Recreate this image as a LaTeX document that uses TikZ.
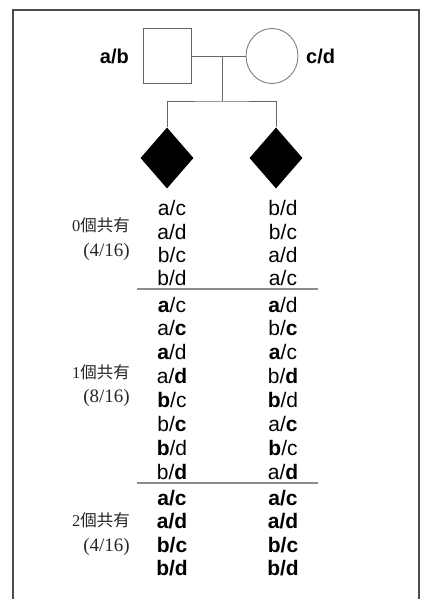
\documentclass[tikz,border=0pt]{standalone}
\usepackage{fontspec}
\usetikzlibrary{shapes.geometric}
\newfontfamily\gsans{Liberation Sans}
\newfontfamily\cjk{Noto Sans CJK TC}
\newfontfamily\lserif{Liberation Serif}
% shared allele in bold
\newcommand\shared[1]{{\bfseries #1}}

\begin{document}
\begin{tikzpicture}[x=1pt,y=-1pt,
  frame/.style={draw=black!70, line width=1.4pt},
  ped/.style={draw=black!60, line width=0.9pt},
  sep/.style={draw=black!45, line width=1.3pt},
  geno/.style={font=\gsans\fontsize{21}{23}\selectfont, inner sep=0pt, anchor=center},
  allbold/.style={geno, font=\gsans\bfseries\fontsize{21}{23}\selectfont},
  parentlabel/.style={font=\gsans\bfseries\fontsize{20}{22}\selectfont, inner sep=0pt},
  grouplabel/.style={font=\cjk\fontsize{16.5}{18}\selectfont, text=black!85, inner sep=0pt, anchor=east},
  ratio/.style={font=\lserif\fontsize{19}{21}\selectfont, text=black!85, inner sep=0pt, anchor=east},
  male/.style={ped, rectangle, minimum width=48pt, minimum height=55pt, inner sep=0pt},
  female/.style={draw=black!50, line width=0.9pt, ellipse, minimum width=52pt, minimum height=55pt, inner sep=0pt},
  child/.style={diamond, fill=black, minimum width=53pt, minimum height=61pt, inner sep=0pt}]

\useasboundingbox (0,0) rectangle (424,599);

% outer frame, open at the bottom
\draw[frame] (13,605) -- (13,10) -- (419,10) -- (419,605);

% parents
\node[male] (father) at (167,56) {};
\node[female] (mother) at (272,56) {};
\node[parentlabel, anchor=east] (fatherlab) at (129,56) {a/b};
\node[parentlabel, anchor=west] (motherlab) at (306,56) {c/d};

% children
\node[child] (kid1) at (167,158) {};
\node[child] (kid2) at (276,158) {};

% mating and sibship lines
\coordinate (mate) at (222,56);
\coordinate (sib) at (222,101);
\draw[ped] (father.east) -- (mother.west);
\draw[ped] (mate) -- (sib);
\draw[ped] (kid1.north) |- (sib) -| (kid2.north);

% group 0: no allele shared
\node[grouplabel] (g0a) at (130,225) {\lserif 0\cjk 個共有};
\node[ratio] (g0b) at (130,252) {(4/16)};
\node[geno] (l01) at (172,208) {a/c};
\node[geno] (l02) at (172,232) {a/d};
\node[geno] (l03) at (172,255) {b/c};
\node[geno] (l04) at (172,278) {b/d};
\node[geno] (r01) at (283,208) {b/d};
\node[geno] (r02) at (283,232) {b/c};
\node[geno] (r03) at (283,255) {a/d};
\node[geno] (r04) at (283,278) {a/c};

\coordinate (s1a) at (137,289);
\coordinate (s1b) at (318,289);
\draw[sep] (s1a) -- (s1b);

% group 1: one allele shared
\node[grouplabel] (g1a) at (130,372) {\lserif 1\cjk 個共有};
\node[ratio] (g1b) at (130,398) {(8/16)};
\node[geno] (l11) at (172,305) {\shared{a}/c};
\node[geno] (l12) at (172,328) {a/\shared{c}};
\node[geno] (l13) at (172,352) {\shared{a}/d};
\node[geno] (l14) at (172,376) {a/\shared{d}};
\node[geno] (l15) at (172,400) {\shared{b}/c};
\node[geno] (l16) at (172,424) {b/\shared{c}};
\node[geno] (l17) at (172,448) {\shared{b}/d};
\node[geno] (l18) at (172,472) {b/\shared{d}};
\node[geno] (r11) at (283,305) {\shared{a}/d};
\node[geno] (r12) at (283,328) {b/\shared{c}};
\node[geno] (r13) at (283,352) {\shared{a}/c};
\node[geno] (r14) at (283,376) {b/\shared{d}};
\node[geno] (r15) at (283,400) {\shared{b}/d};
\node[geno] (r16) at (283,424) {a/\shared{c}};
\node[geno] (r17) at (283,448) {\shared{b}/c};
\node[geno] (r18) at (283,472) {a/\shared{d}};

\coordinate (s2a) at (137,483);
\coordinate (s2b) at (318,483);
\draw[sep] (s2a) -- (s2b);

% group 2: both alleles shared
\node[grouplabel] (g2a) at (130,520) {\lserif 2\cjk 個共有};
\node[ratio] (g2b) at (130,547) {(4/16)};
\node[allbold] (l21) at (172,498) {a/c};
\node[allbold] (l22) at (172,521) {a/d};
\node[allbold] (l23) at (172,545) {b/c};
\node[allbold] (l24) at (172,568) {b/d};
\node[allbold] (r21) at (283,498) {a/c};
\node[allbold] (r22) at (283,521) {a/d};
\node[allbold] (r23) at (283,545) {b/c};
\node[allbold] (r24) at (283,568) {b/d};
\end{tikzpicture}
\end{document}
